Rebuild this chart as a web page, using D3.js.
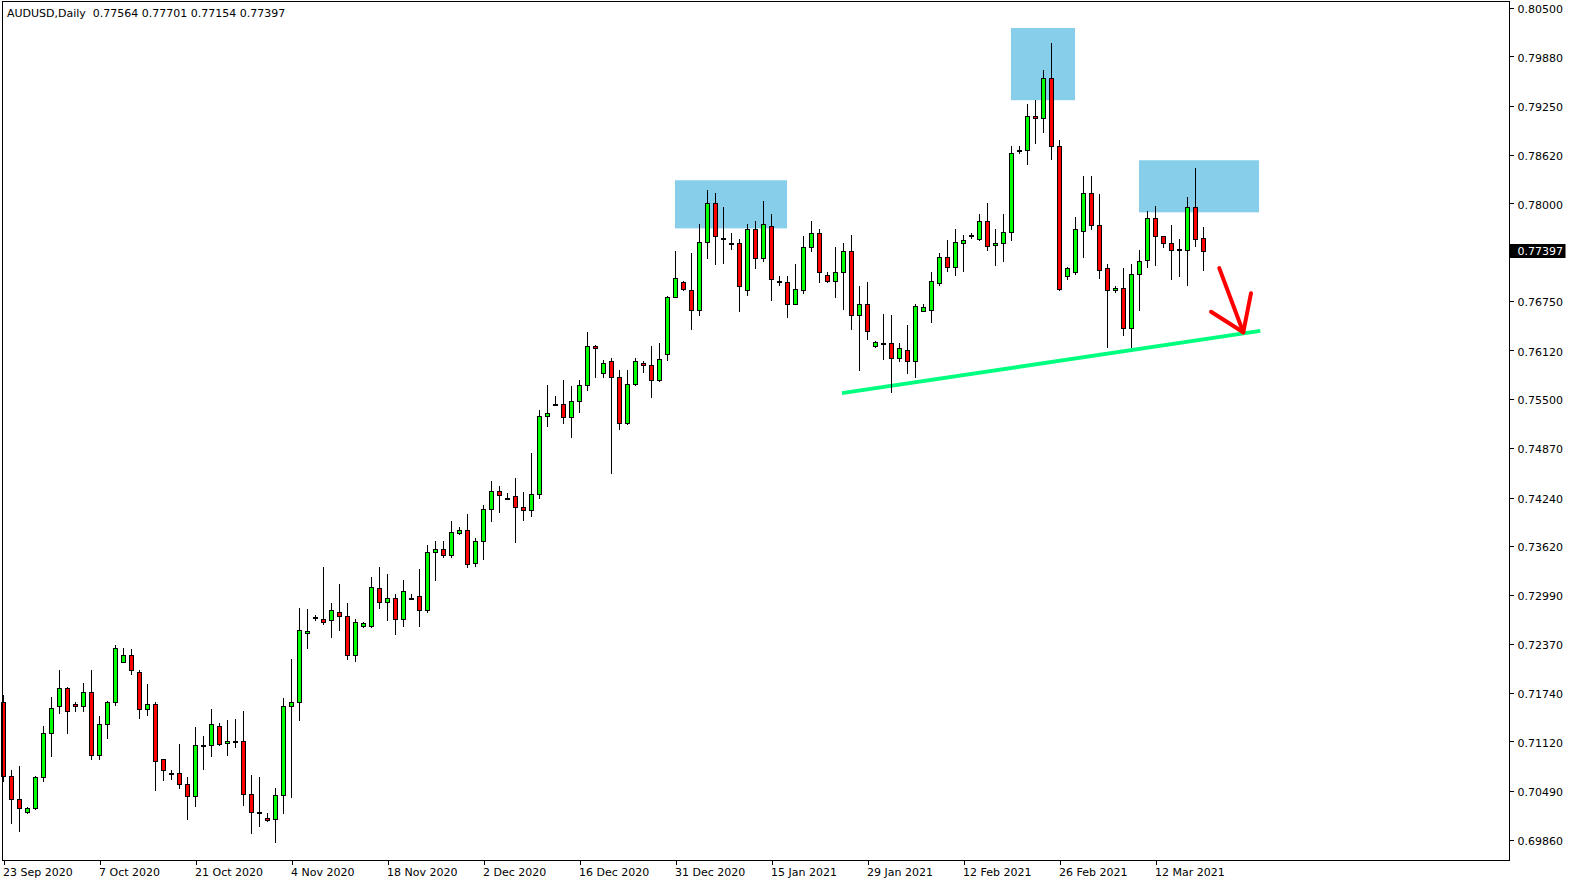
<!DOCTYPE html>
<html><head><meta charset="utf-8">
<script src="https://cdn.jsdelivr.net/npm/d3@7"></script>
<style>html,body{margin:0;padding:0;background:#fff;overflow:hidden}</style>
</head><body>
<svg id="c" width="1574" height="884"></svg>
<script>
// ---- data (AUDUSD daily, one value per bar) ----
const opens = [0.7162,0.7068,0.7039,0.7022,0.7027,0.7066,0.7123,0.7157,0.7180,0.7160,
0.7158,0.7175,0.7095,0.7134,0.7163,0.7214,0.7223,0.7201,0.7154,0.7160,
0.7089,0.7072,0.7072,0.7058,0.7042,0.7107,0.7108,0.7132,0.7110,0.7112,
0.7112,0.7045,0.7022,0.7014,0.7013,0.7044,0.7158,0.7163,0.7251,0.7271,
0.7269,0.7267,0.7278,0.7272,0.7223,0.7260,0.7260,0.7308,0.7291,0.7295,
0.7268,0.7296,0.7298,0.7280,0.7354,0.7358,0.7351,0.7378,0.7383,0.7340,
0.7368,0.7409,0.7432,0.7424,0.7426,0.7412,0.7408,0.7428,0.7528,0.7544,
0.7544,0.7527,0.7548,0.7568,0.7618,0.7583,0.7598,0.7578,0.7519,0.7569,
0.7596,0.7594,0.7574,0.7607,0.7681,0.7699,0.7690,0.7664,0.7751,0.7801,
0.7756,0.7749,0.7750,0.7690,0.7767,0.7730,0.7771,0.7701,0.7699,0.7672,
0.7690,0.7744,0.7762,0.7709,0.7701,0.7712,0.7739,0.7658,0.7672,0.7618,
0.7622,0.7622,0.7603,0.7613,0.7599,0.7663,0.7664,0.7698,0.7731,0.7719,
0.7750,0.7760,0.7755,0.7778,0.7747,0.7750,0.7764,0.7868,0.7869,0.7912,
0.7909,0.7960,0.7873,0.7707,0.7712,0.7765,0.7813,0.7773,0.7717,0.7690,
0.7692,0.7641,0.7710,0.7728,0.7782,0.7758,0.7750,0.7740,0.7741,0.7796,
0.77564];
const highs = [0.7172,0.7075,0.7081,0.7028,0.7068,0.7132,0.7169,0.7204,0.7182,0.7162,
0.7187,0.7203,0.7145,0.7164,0.7235,0.7232,0.7230,0.7204,0.7185,0.7162,
0.7090,0.7075,0.7109,0.7067,0.7131,0.7119,0.7153,0.7136,0.7140,0.7141,
0.7151,0.7069,0.7066,0.7021,0.7052,0.7168,0.7217,0.7283,0.7282,0.7274,
0.7335,0.7289,0.7313,0.7289,0.7268,0.7265,0.7322,0.7335,0.7326,0.7300,
0.7319,0.7301,0.7332,0.7363,0.7368,0.7369,0.7394,0.7386,0.7403,0.7372,
0.7415,0.7445,0.7439,0.7430,0.7449,0.7431,0.7481,0.7536,0.7568,0.7554,
0.7574,0.7567,0.7574,0.7636,0.7619,0.7600,0.7603,0.7587,0.7587,0.7603,
0.7599,0.7618,0.7621,0.7682,0.7739,0.7701,0.7737,0.7774,0.7817,0.7814,
0.7795,0.7762,0.7754,0.7774,0.7778,0.7803,0.7786,0.7707,0.7707,0.7722,
0.7758,0.7778,0.7767,0.7713,0.7744,0.7750,0.7760,0.7694,0.7700,0.7624,
0.7659,0.7658,0.7622,0.7644,0.7671,0.7671,0.7712,0.7737,0.7753,0.7768,
0.7760,0.7762,0.7786,0.7801,0.7768,0.7786,0.7874,0.7873,0.7927,0.7932,
0.7971,0.8005,0.7881,0.7719,0.7783,0.7835,0.7835,0.7812,0.7723,0.7694,
0.7718,0.7722,0.7741,0.7790,0.7797,0.7759,0.7772,0.7754,0.7808,0.7846,
0.77701];
const lows = [0.7062,0.7008,0.6998,0.7021,0.7026,0.7062,0.7093,0.7148,0.7123,0.7151,
0.7151,0.7090,0.7090,0.7116,0.7159,0.7213,0.7198,0.7142,0.7146,0.7050,
0.7063,0.7064,0.7052,0.7013,0.7030,0.7077,0.7094,0.7108,0.7095,0.7105,
0.7031,0.6995,0.7004,0.7010,0.6983,0.7021,0.7041,0.7139,0.7232,0.7267,
0.7262,0.7246,0.7254,0.7218,0.7215,0.7258,0.7259,0.7283,0.7267,0.7249,
0.7260,0.7294,0.7260,0.7278,0.7319,0.7348,0.7348,0.7377,0.7335,0.7336,
0.7345,0.7394,0.7405,0.7423,0.7367,0.7395,0.7400,0.7424,0.7516,0.7542,
0.7519,0.7501,0.7533,0.7562,0.7578,0.7578,0.7455,0.7512,0.7518,0.7568,
0.7585,0.7553,0.7573,0.7600,0.7680,0.7690,0.7639,0.7658,0.7730,0.7722,
0.7724,0.7742,0.7663,0.7683,0.7718,0.7726,0.7677,0.7696,0.7655,0.7671,
0.7686,0.7739,0.7699,0.7699,0.7680,0.7665,0.7640,0.7587,0.7627,0.7617,
0.7601,0.7559,0.7598,0.7583,0.7578,0.7662,0.7648,0.7696,0.7714,0.7709,
0.7714,0.7756,0.7753,0.7741,0.7721,0.7726,0.7753,0.7864,0.7851,0.7877,
0.7891,0.7857,0.7689,0.7703,0.7710,0.7731,0.7767,0.7705,0.7617,0.7687,
0.7632,0.7617,0.7664,0.7719,0.7721,0.7744,0.7703,0.7707,0.7696,0.7745,
0.77154];
const closes = [0.7068,0.7039,0.7027,0.7027,0.7067,0.7123,0.7155,0.7180,0.7151,0.7158,
0.7175,0.7095,0.7134,0.7163,0.7232,0.7223,0.7203,0.7154,0.7160,0.7087,
0.7075,0.7072,0.7058,0.7042,0.7107,0.7108,0.7134,0.7109,0.7113,0.7113,
0.7045,0.7022,0.7022,0.7012,0.7044,0.7158,0.7163,0.7254,0.7253,0.7271,
0.7265,0.7280,0.7272,0.7223,0.7265,0.7263,0.7309,0.7291,0.7295,0.7268,
0.7305,0.7296,0.7280,0.7354,0.7358,0.7351,0.7380,0.7382,0.7339,0.7368,
0.7409,0.7432,0.7427,0.7424,0.7412,0.7408,0.7428,0.7528,0.7532,0.7544,
0.7527,0.7548,0.7568,0.7618,0.7615,0.7596,0.7578,0.7519,0.7569,0.7598,
0.7594,0.7574,0.7601,0.7681,0.7705,0.7691,0.7664,0.7751,0.7800,0.7758,
0.7756,0.7749,0.7694,0.7767,0.7730,0.7774,0.7704,0.7699,0.7672,0.7691,
0.7744,0.7762,0.7712,0.7701,0.7712,0.7739,0.7658,0.7672,0.7637,0.7623,
0.7622,0.7603,0.7615,0.7599,0.7669,0.7667,0.7701,0.7732,0.7719,0.7751,
0.7753,0.7758,0.7777,0.7746,0.7750,0.7764,0.7864,0.7868,0.7912,0.7909,
0.7960,0.7874,0.7691,0.7717,0.7767,0.7813,0.7773,0.7715,0.7689,0.7692,
0.7641,0.7710,0.7727,0.7781,0.7759,0.7750,0.7740,0.7742,0.7796,0.7755,
0.77397];

const dateLabels = ["23 Sep 2020","7 Oct 2020","21 Oct 2020","4 Nov 2020","18 Nov 2020",
  "2 Dec 2020","16 Dec 2020","31 Dec 2020","15 Jan 2021","29 Jan 2021","12 Feb 2021",
  "26 Feb 2021","12 Mar 2021"];
const dateLabelBars = [0,12,24,36,48,60,72,84,96,108,120,132,144];
const priceTicks = [0.80500,0.79880,0.79250,0.78620,0.78000,0.76750,0.76120,0.75500,
  0.74870,0.74240,0.73620,0.72990,0.72370,0.71740,0.71120,0.70490,0.69860];
const symbolTitle = "AUDUSD,Daily";
const lastPrice = 0.77397;

// drawn objects: [bar0, bar1, priceTop, priceBottom]
const zones = [[83.94, 97.94, 0.78297, 0.77682],
               [125.94, 133.94, 0.80244, 0.79321],
               [141.94, 156.94, 0.78553, 0.77887]];
// support trend line: [bar, price] endpoints
const supportLine = [[104.8, 0.75575],[157.1, 0.76371]];
// arrow segments: [[bar,price],[bar,price]]
const arrowSegs = [[[151.97,0.77173],[154.97,0.76353]],
                   [[155.94,0.76853],[154.97,0.76353]],
                   [[150.94,0.76615],[154.97,0.76353]]];

// ---- chart ----
const svg = d3.select("#c");
const W = 1574, H = 884;
const plotLeft = 2.5, plotRight = 1509.5, plotTop = 1.5, plotBottom = 860.5;
const x = d3.scaleLinear().domain([0, 150]).range([3.5, 1203.5]);
const y = d3.scaleLinear().domain([0.6986, 0.805]).range([840, 8]);

svg.append("rect").attr("width", W).attr("height", H).attr("fill", "#fff");

// zones
svg.append("g").selectAll("rect").data(zones).join("rect")
  .attr("x", d => x(d[0])).attr("width", d => x(d[1]) - x(d[0]))
  .attr("y", d => y(d[2])).attr("height", d => y(d[3]) - y(d[2]))
  .attr("fill", "#87ceeb");

// support line
svg.append("line")
  .attr("x1", x(supportLine[0][0])).attr("y1", y(supportLine[0][1]))
  .attr("x2", x(supportLine[1][0])).attr("y2", y(supportLine[1][1]))
  .attr("stroke", "#00ff7f").attr("stroke-width", 4);

// arrow
svg.append("g").selectAll("line").data(arrowSegs).join("line")
  .attr("x1", d => x(d[0][0])).attr("y1", d => y(d[0][1]))
  .attr("x2", d => x(d[1][0])).attr("y2", d => y(d[1][1]))
  .attr("stroke", "#ff0000").attr("stroke-width", 4).attr("stroke-linecap", "round");

// candles
const bars = d3.range(opens.length).map(i => ({i, o: opens[i], h: highs[i], l: lows[i], c: closes[i]}));
const cg = svg.append("g");
const snap = v => Math.round(v) + 0.5;
cg.selectAll("line.wick").data(bars).join("line").attr("class", "wick")
  .attr("x1", d => x(d.i)).attr("x2", d => x(d.i))
  .attr("y1", d => Math.round(y(d.h))).attr("y2", d => Math.round(y(d.l)) + 1)
  .attr("stroke", "#000").attr("stroke-width", 1).attr("shape-rendering", "crispEdges");
cg.selectAll("rect.body").data(bars).join("rect").attr("class", "body")
  .attr("x", d => x(d.i) - 2).attr("width", 4)
  .attr("y", d => snap(y(Math.max(d.o, d.c))))
  .attr("height", d => Math.max(1, snap(y(Math.min(d.o, d.c))) - snap(y(Math.max(d.o, d.c)))))
  .attr("fill", d => d.c >= d.o ? "#00ff00" : "#ff0000")
  .attr("stroke", "#000").attr("stroke-width", 1).attr("shape-rendering", "crispEdges");

// frame
svg.append("rect").attr("x", plotLeft).attr("y", plotTop)
  .attr("width", plotRight - plotLeft).attr("height", plotBottom - plotTop)
  .attr("fill", "none").attr("stroke", "#000").attr("stroke-width", 1)
  .attr("shape-rendering", "crispEdges");

const font = "'DejaVu Sans', Tahoma, sans-serif";

// right axis
const yAxis = d3.axisRight(y).tickValues(priceTicks).tickSize(4).tickSizeOuter(0)
  .tickFormat(d3.format(".5f"));
const ya = svg.append("g").attr("transform", `translate(${plotRight},0)`).call(yAxis);
ya.select(".domain").remove();
ya.selectAll("line").attr("stroke", "#000").attr("shape-rendering", "crispEdges");
ya.selectAll("text").attr("x", 8).attr("y", 1).attr("fill", "#000")
  .style("font-family", font).style("font-size", "11px");

// bottom axis
const xAxis = d3.axisBottom(x).tickValues(dateLabelBars).tickSize(4).tickSizeOuter(0)
  .tickFormat((d, i) => dateLabels[i]);
const xa = svg.append("g").attr("transform", `translate(0,${plotBottom})`).call(xAxis);
xa.select(".domain").remove();
xa.selectAll("line").attr("stroke", "#000").attr("shape-rendering", "crispEdges");
xa.selectAll("text").attr("text-anchor", "start").attr("x", -1).attr("y", 8).attr("fill", "#000")
  .style("font-family", font).style("font-size", "11px");

// last price label
const ly = y(lastPrice);
svg.append("rect").attr("x", plotRight).attr("y", Math.round(ly) - 7)
  .attr("width", 56).attr("height", 14).attr("fill", "#000");
svg.append("text").attr("x", plotRight + 8).attr("y", ly + 1).attr("dy", "0.35em")
  .attr("fill", "#fff").style("font-family", font).style("font-size", "11px")
  .text(d3.format(".5f")(lastPrice));

// header
const last = bars[bars.length - 1];
svg.append("text").attr("x", 7).attr("y", 17).attr("fill", "#000")
  .style("font-family", font).style("font-size", "11px")
  .attr("xml:space", "preserve")
  .text(`${symbolTitle}  ${[last.o, last.h, last.l, last.c].map(d3.format(".5f")).join(" ")}`);
</script>
</body></html>
